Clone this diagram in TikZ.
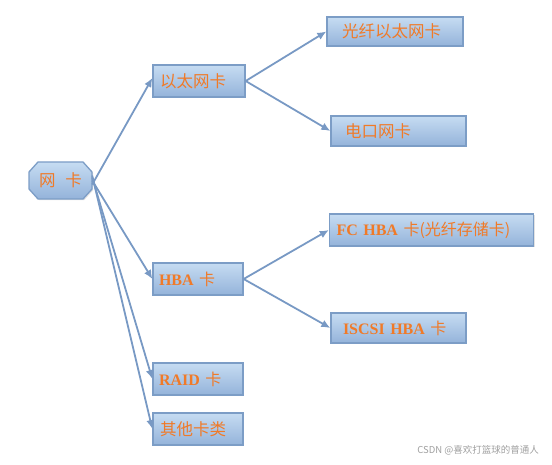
\documentclass[tikz,border=0pt]{standalone}
\usepackage{fontspec}
\setmainfont{Liberation Serif}
\newfontfamily\cjk{Noto Sans CJK SC}
\usetikzlibrary{arrows.meta,shadows}
\definecolor{boxtop}{HTML}{C6DCF2}
\definecolor{boxbot}{HTML}{94B3DA}
\definecolor{boxline}{HTML}{7C9DC6}
\definecolor{txt}{HTML}{F07A28}
\definecolor{arr}{HTML}{7899C4}
\tikzset{
  boxlook/.style={draw=boxline, line width=1.3pt, top color=boxtop, bottom color=boxbot,
    drop shadow={shadow xshift=1.2pt, shadow yshift=-1.2pt, fill=gray!45}},
  card/.style={boxlook, text=txt, font=\fontsize{16.5}{18}\selectfont, align=left, inner ysep=0pt},
  link/.style={draw=arr, line width=1.8pt, -{Latex[length=9pt,width=8pt]}}
}
\begin{document}
\begin{tikzpicture}[x=1pt,y=-1pt]
\useasboundingbox (0,0) rectangle (552,465);
\path[boxlook] (38,162) -- (83,162) -- (92,172) -- (92,189) -- (83,199) -- (38,199) -- (29,189) -- (29,172) -- cycle;
\node[text=txt, font=\fontsize{16.5}{18}\selectfont, minimum width=63pt, minimum height=37pt, inner sep=0pt] (wk) at (60.5,180.5) {\cjk 网\hspace{0.6em}卡};
\node[card, minimum width=92pt, minimum height=32pt, text width=78pt, inner xsep=7pt] (ytk) at (199,81) {\cjk 以太网卡};
\node[card, minimum width=136pt, minimum height=29pt, text width=106pt, inner xsep=15pt] (gx) at (395,31.5) {\cjk 光纤以太网卡};
\node[card, minimum width=135pt, minimum height=30pt, text width=107pt, inner xsep=14pt] (dk) at (398.5,131) {\cjk 电口网卡};
\node[card, minimum width=90pt, minimum height=32pt, text width=78pt, inner xsep=6pt] (hba) at (198,279) {\fontsize{16}{18}\selectfont\textbf{HBA} {\cjk 卡}};
\node[card, minimum width=203pt, minimum height=32pt, text width=190pt, inner xsep=7pt] (fc) at (431.5,230) {\fontsize{16}{18}\selectfont\textbf{FC HBA} {\cjk 卡(光纤存储卡)}};
\node[card, minimum width=135pt, minimum height=30pt, text width=111pt, inner xsep=12pt] (is) at (398.5,328) {\fontsize{16}{18}\selectfont\textbf{ISCSI HBA} {\cjk 卡}};
\node[card, minimum width=90pt, minimum height=32pt, text width=78pt, inner xsep=6pt] (raid) at (198,379) {\fontsize{16}{18}\selectfont\textbf{RAID} {\cjk 卡}};
\node[card, minimum width=90pt, minimum height=32pt, text width=76pt, inner xsep=7pt] (qt) at (198,429) {\cjk 其他卡类};
\draw[link] ([yshift=-4pt]wk.east) -- ([yshift=3pt]ytk.west);
\draw[link] (wk.east) -- (hba.west);
\draw[link] ([yshift=3pt]wk.east) -- (raid.west);
\draw[link] ([yshift=5pt]wk.east) -- (qt.west);
\draw[link] (ytk.east) -- (gx.west);
\draw[link] (ytk.east) -- (dk.west);
\draw[link] (hba.east) -- (fc.west);
\draw[link] (hba.east) -- (is.west);
\node[anchor=east, text=gray!75, font=\cjk\fontsize{9.5}{11}\selectfont, inner sep=0pt] (wm) at (539,450) {CSDN @喜欢打篮球的普通人};
\end{tikzpicture}
\end{document}
